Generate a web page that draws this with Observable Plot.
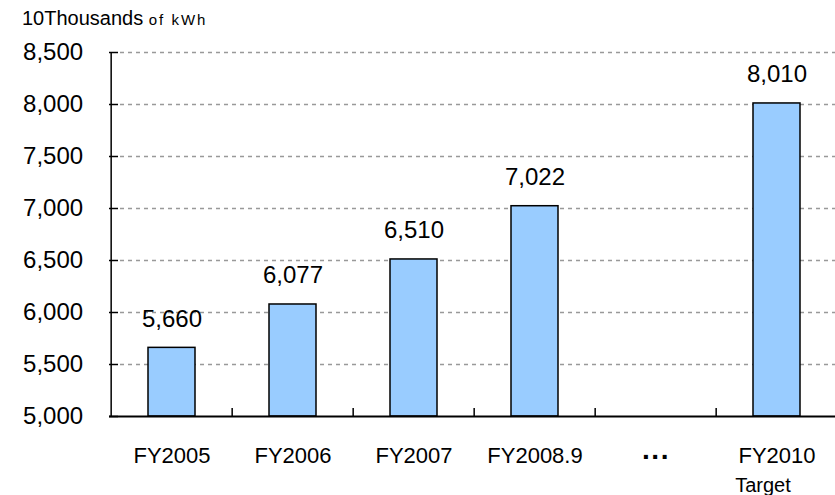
<!DOCTYPE html>
<html>
<head>
<meta charset="utf-8">
<script src="https://cdn.jsdelivr.net/npm/d3@7"></script>
<script src="https://cdn.jsdelivr.net/npm/@observablehq/plot@0.6"></script>
<style>
  html, body { margin: 0; padding: 0; background: #fff; overflow: hidden; }
  body { font-family: Arial, "Liberation Sans", sans-serif; }
  #wrap { position: relative; width: 835px; height: 495px; }
  #unit { position: absolute; left: 22px; top: 7px; font-size: 20px; color: #000; white-space: nowrap; z-index: 2; }
  #unit small { font-size: 15px; letter-spacing: 2px; }
  #chart { position: absolute; left: 0; top: 0; }
</style>
</head>
<body>
<div id="wrap">
  <div id="unit">10Thousands <small>of kWh</small></div>
  <div id="chart"></div>
</div>
<script>
const categories = ["FY2005", "FY2006", "FY2007", "FY2008.9", "dots", "FY2010"];
const categoryLabels = ["FY2005", "FY2006", "FY2007", "FY2008.9", "···", "FY2010"];
const values = [5660, 6077, 6510, 7022, null, 8010];
const yTicks = [5000, 5500, 6000, 6500, 7000, 7500, 8000, 8500];
const subLabel = "Target";

const data = categories.map((c, i) => ({cat: c, value: values[i]})).filter(d => d.value != null);
const catData = categories.map((c, i) => ({cat: c, label: categoryLabels[i]}));

const W = 835, H = 495, mL = 109, mR = -4, mT = 52, mB = 79;
const bw = (W - mL - mR) / categories.length;
const fmt = d3.format(",");

const chart = Plot.plot({
  width: W,
  height: H,
  marginLeft: mL,
  marginRight: mR,
  marginTop: mT,
  marginBottom: mB,
  style: {fontFamily: "Arial, 'Liberation Sans', sans-serif", background: "transparent", overflow: "visible"},
  x: {domain: categories, padding: 0, axis: null},
  y: {domain: [5000, 8500], axis: null},
  marks: [
    Plot.ruleY(yTicks.filter(d => d > 5000), {y: d => d, stroke: "#999", strokeWidth: 1.3, strokeDasharray: "4,4", insetLeft: 11}),
    Plot.barY(data, {x: "cat", y1: 5000, y2: "value", fill: "#99CCFF", stroke: "#000", strokeWidth: 1.5, insetLeft: 37, insetRight: 37}),
    Plot.text(data, {x: "cat", y: "value", text: d => fmt(d.value), dy: -21, lineAnchor: "bottom", fontSize: 24, fill: "#000"}),
    // axes
    Plot.ruleY([5000], {stroke: "#000", strokeWidth: 2}),
    Plot.ruleX([categories[0]], {x: d => d, y1: 5000, y2: 8500, dx: -bw / 2, stroke: "#000", strokeWidth: 1.5}),
    Plot.ruleY(yTicks, {y: d => d, stroke: "#000", strokeWidth: 1.5, insetRight: W - mL - mR - 9}),
    Plot.ruleX(categories.slice(1), {x: d => d, y1: 5000, y2: 5077, dx: -bw / 2, stroke: "#000", strokeWidth: 1.5}),
    Plot.text(yTicks, {x: () => categories[0], y: d => d, text: d => fmt(d), dx: -bw / 2 - 28, textAnchor: "end", fontSize: 24, fill: "#000"}),
    Plot.text(catData.filter(d => d.label !== "···"), {x: "cat", text: "label", frameAnchor: "bottom", lineAnchor: "bottom", dy: 46,
      fontSize: 22, fill: "#000"}),
    Plot.text(catData.filter(d => d.label === "···"), {x: "cat", text: "label", frameAnchor: "bottom", lineAnchor: "bottom", dy: 49,
      fontSize: 28, fontWeight: "bold", letterSpacing: 4, fill: "#000"}),
    Plot.text([categories[5]], {x: d => d, text: () => subLabel, frameAnchor: "bottom", lineAnchor: "bottom", dy: 75, dx: -14, fontSize: 20, fill: "#000"})
  ]
});
document.getElementById("chart").appendChild(chart);
</script>
</body>
</html>
